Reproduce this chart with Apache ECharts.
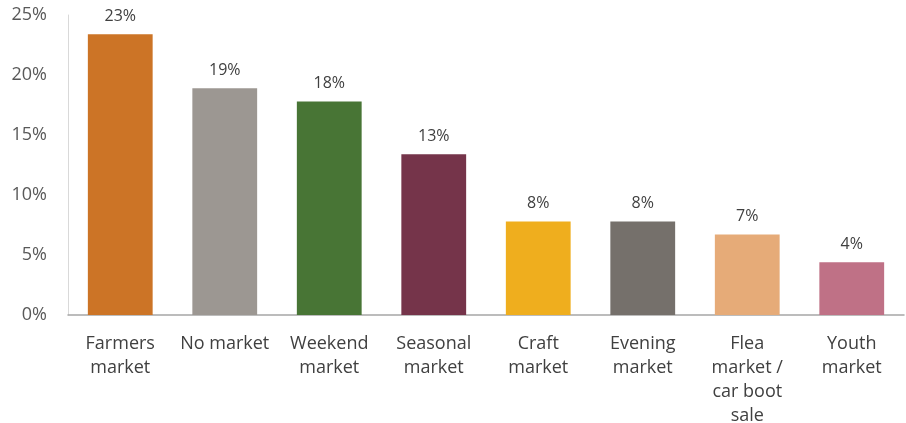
<!DOCTYPE html>
<html>
<head>
<meta charset="utf-8">
<script src="https://cdn.jsdelivr.net/npm/echarts@6/dist/echarts.min.js"></script>
<style>
  html, body { margin: 0; padding: 0; background: #fff; }
  #chart { width: 906px; height: 423px; }
</style>
</head>
<body>
<div id="chart"></div>
<script>
// Market types and share of respondents (%)
const categories = [
  'Farmers\nmarket', 'No market', 'Weekend\nmarket', 'Seasonal\nmarket',
  'Craft\nmarket', 'Evening\nmarket', 'Flea\nmarket /\ncar boot\nsale', 'Youth\nmarket'
];
const shares = [23.4, 18.9, 17.8, 13.4, 7.8, 7.8, 6.7, 4.4];
const barColors = ['#CC7426', '#9C9792', '#487535', '#75344A', '#EFAE1E', '#75706B', '#E6AB78', '#BF7186'];
const yTicks = [0, 5, 10, 15, 20, 25];

const chart = echarts.init(document.getElementById('chart'), null, { renderer: 'canvas' });
const font = '"Open Sans", "Liberation Sans", sans-serif';

chart.setOption({
  animation: false,
  grid: { left: 68, right: 2, top: 15, bottom: 108, containLabel: false, outerBoundsMode: 'none' },
  xAxis: {
    type: 'category',
    data: categories,
    axisLine: { show: true, lineStyle: { color: '#A6A6A6', width: 1.5 } },
    axisTick: { show: false },
    axisLabel: {
      interval: 0, color: '#404040', fontFamily: font, fontSize: 18,
      lineHeight: 24, margin: 17
    }
  },
  yAxis: {
    type: 'value',
    min: yTicks[0],
    max: yTicks[yTicks.length - 1],
    interval: 5,
    axisLine: { show: true, lineStyle: { color: '#D9D9D9', width: 1 } },
    axisTick: { show: false },
    splitLine: { show: false },
    axisLabel: {
      color: '#595959', fontFamily: font, fontSize: 18, margin: 21,
      formatter: v => v + '%'
    }
  },
  series: [{
    type: 'bar',
    data: shares.map((v, i) => ({ value: v, itemStyle: { color: barColors[i] } })),
    barWidth: '62%',
    label: {
      show: true, position: 'top', distance: 10,
      color: '#404040', fontFamily: font, fontSize: 16,
      formatter: p => Math.round(p.value) + '%'
    }
  }]
});
</script>
</body>
</html>
